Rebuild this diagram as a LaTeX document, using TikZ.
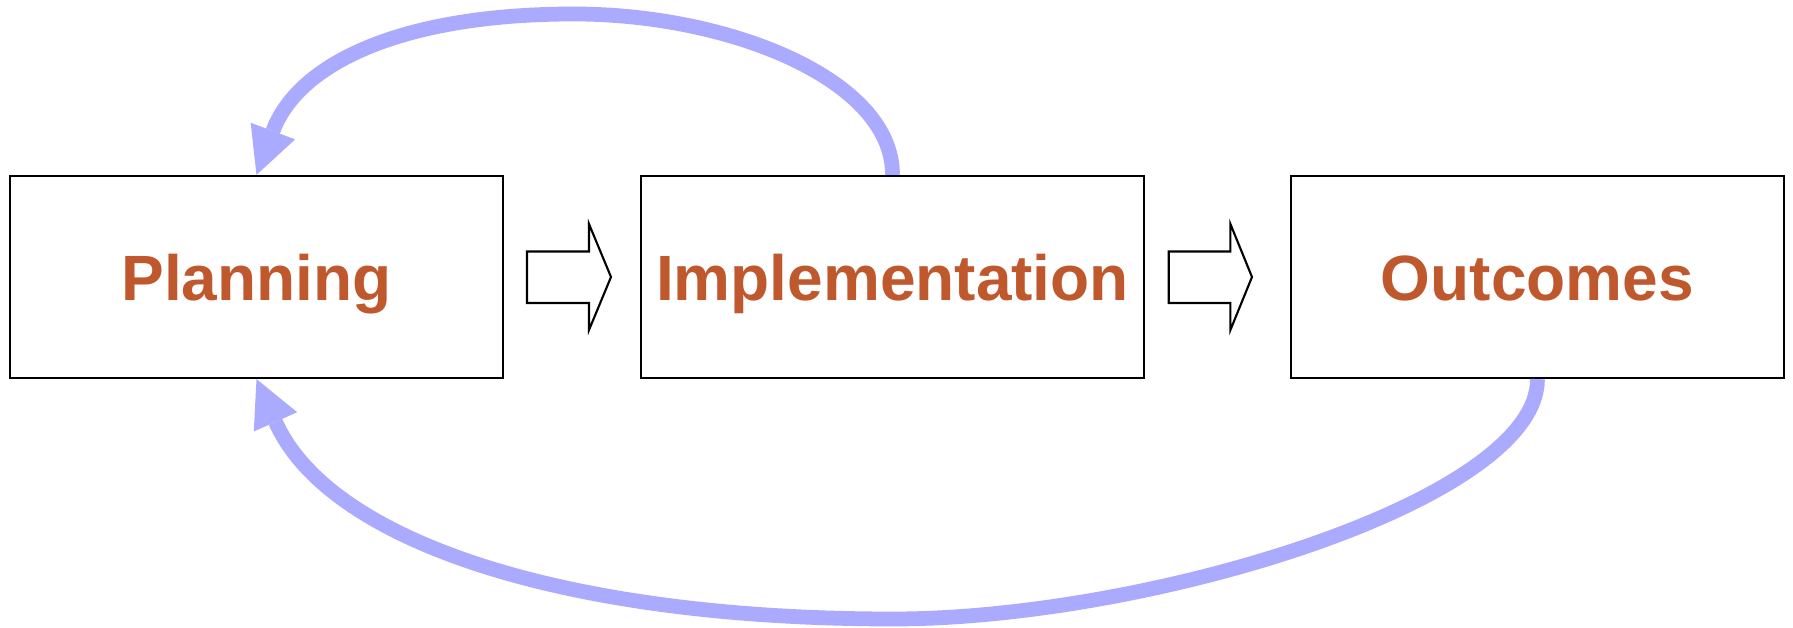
\documentclass[tikz,border=0pt]{standalone}
\usepackage{fontspec}
\setmainfont{Liberation Sans}
\usepackage{tikz}
\usetikzlibrary{arrows.meta, calc}
\usetikzlibrary{positioning}

\definecolor{stagetext}{RGB}{192,88,46}
\definecolor{loopblue}{RGB}{170,170,255}

\tikzset{
    stage/.style={draw, line width=0.6pt, minimum width=4.93cm, minimum height=2.02cm,
        inner sep=0pt, text=stagetext, text height=13.2pt, text depth=0pt,
        font=\fontsize{18.2}{20}\selectfont\bfseries},
    loop/.style={draw=loopblue, line width=4.2pt,
        -{Triangle[length=13.3pt,width=13.5pt,line width=0pt]}},
    blockarrow/.style={draw, line width=0.6pt, fill=white}
}

\begin{document}
\begin{tikzpicture}[x=0.01cm, y=-0.01cm]
        \useasboundingbox (0,0) rectangle (1793,628);
        \node[stage] (plan) at (256.5,277) {Planning};
        \node[stage, right=1.36cm of plan, minimum width=5.02cm] (impl) {Implementation};
        \node[stage, right=1.45cm of impl] (out) {Outcomes};
        % block arrows between the stages
        \draw[blockarrow] (527,251.5) -- (589,251.5) -- (589,224) -- (611,277)
            -- (589,330) -- (589,303) -- (527,303) -- cycle;
        \draw[blockarrow] (1168.7,251.5) -- (1230.4,251.5) -- (1230.4,224) -- (1252,277)
            -- (1230.4,330) -- (1230.4,303) -- (1168.7,303) -- cycle;
        % feedback loops
        \coordinate (topmid) at (574,14);
        \coordinate (botmid) at (893,619);
        \path[loop] (impl.north) .. controls (893,80) and (730,14) .. (topmid)
            .. controls (400,14) and (298,64) .. (plan.north);
        \path[loop] (out.south) .. controls (1538,500) and (1150,619) .. (botmid)
            .. controls (560,619) and (328,540) .. (plan.south);
    \end{tikzpicture}
\end{document}
